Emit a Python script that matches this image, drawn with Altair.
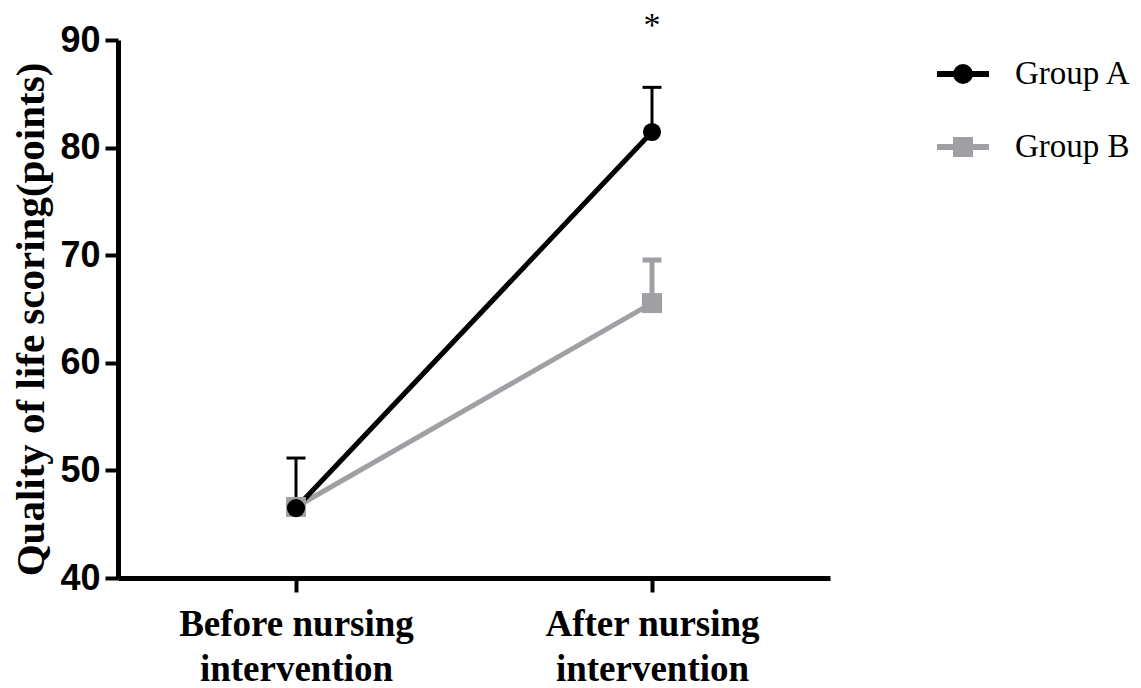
import altair as alt
import pandas as pd

# ---- data ----
categories = ["Before nursing intervention", "After nursing intervention"]
group_names = ["Group A", "Group B"]
group_colors = ["#000000", "#a0a0a4"]

means_a = [46.5, 81.45]
upper_a = [51.15, 85.6]
means_b = [46.6, 65.55]
upper_b = [47.3, 69.55]

star_labels = ["*"]
star_cats = ["After nursing intervention"]
star_values = [90.4]

# ---- tables built from the arrays (Group B first so Group A is drawn on top) ----
rows = []
for g, means, ups in [("Group B", means_b, upper_b), ("Group A", means_a, upper_a)]:
    for i, c in enumerate(categories):
        rows.append({"cat": c, "group": g, "mean": means[i], "upper": ups[i], "order": i})
df = pd.DataFrame(rows)

star_df = pd.DataFrame({"cat": star_cats, "value": star_values, "label": star_labels})

legend_df = pd.DataFrame({"legend_group": group_names,
                          "cat": [categories[1]] * 2,
                          "value": [0, 0]})

color_scale = alt.Scale(domain=group_names, range=group_colors)

x_enc = alt.X(
    "cat:N",
    sort=categories,
    scale=alt.Scale(type="point", domain=categories, padding=0.5),
    axis=alt.Axis(
        title=None,
        labelAngle=0,
        labelFont="Liberation Serif",
        labelFontWeight="bold",
        labelFontSize=37,
        labelColor="#000000",
        labelBaseline="alphabetic",
        labelPadding=43,
        labelLineHeight=45,
        labelLimit=400,
        labelExpr="split(replace(datum.label, ' intervention', '|intervention'), '|')",
        domainColor="#000000",
        domainWidth=5,
        tickColor="#000000",
        tickWidth=4,
        tickSize=14,
        grid=False,
    ),
)

y_scale = alt.Scale(domain=[40, 90], nice=False, zero=False)
y_enc = alt.Y(
    "mean:Q",
    scale=y_scale,
    axis=alt.Axis(
        title="Quality of life scoring(points)",
        values=[40, 50, 60, 70, 80, 90],
        labelFont="Liberation Sans",
        labelFontWeight="bold",
        labelFontSize=36,
        labelColor="#000000",
        labelPadding=5,
        domainColor="#000000",
        domainWidth=5,
        tickColor="#000000",
        tickWidth=4,
        tickSize=13,
        grid=False,
        titleFont="Liberation Serif",
        titleFontWeight="bold",
        titleFontSize=41,
        titleColor="#000000",
        titleAngle=270,
        titleAlign="center",
        titleBaseline="alphabetic",
        titleX=-75,
        titleY=279,
    ),
)

base = alt.Chart(df)

lines = base.mark_line(strokeWidth=5).encode(
    x=x_enc,
    y=y_enc,
    color=alt.Color("group:N", scale=color_scale, legend=None),
    detail="group:N",
    order="order:Q",
)

err_rules = base.mark_rule(strokeCap="butt").encode(
    x=alt.X("cat:N", sort=categories),
    y=alt.Y("mean:Q", scale=y_scale),
    y2="upper:Q",
    color=alt.Color("group:N", scale=color_scale, legend=None),
    strokeWidth=alt.StrokeWidth("group:N", scale=alt.Scale(domain=group_names, range=[3, 5]), legend=None),
)

err_caps = base.mark_rule(strokeCap="butt", xOffset=-9.5, x2Offset=9.5).encode(
    x=alt.X("cat:N", sort=categories),
    x2="cat:N",
    y=alt.Y("upper:Q", scale=y_scale),
    color=alt.Color("group:N", scale=color_scale, legend=None),
    strokeWidth=alt.StrokeWidth("group:N", scale=alt.Scale(domain=group_names, range=[3, 5]), legend=None),
)

points = base.mark_point(filled=True, opacity=1).encode(
    x=alt.X("cat:N", sort=categories),
    y=alt.Y("mean:Q", scale=y_scale),
    color=alt.Color("group:N", scale=color_scale, legend=None),
    shape=alt.Shape("group:N", scale=alt.Scale(domain=group_names, range=["circle", "square"]), legend=None),
    size=alt.Size("group:N", scale=alt.Scale(domain=group_names, range=[330, 400]), legend=None),
)

star = alt.Chart(star_df).mark_text(
    font="Liberation Serif", fontSize=34, baseline="alphabetic", align="center", color="#000000"
).encode(
    x=alt.X("cat:N", sort=categories),
    y=alt.Y("value:Q", scale=y_scale),
    text="label:N",
)

# legend symbols: line with a filled marker drawn as strokes only
circle_sym = ("M-1,0H1"
              "M0.269,0A0.269,0.269 0 1 1 -0.269,0A0.269,0.269 0 1 1 0.269,0"
              "M0.077,0A0.077,0.077 0 1 1 -0.077,0A0.077,0.077 0 1 1 0.077,0")
square_sym = ("M-1,0H1"
              "M-0.269,-0.269H0.269V0.269H-0.269Z"
              "M-0.077,-0.077H0.077V0.077H-0.077Z")

legend_layer = alt.Chart(legend_df).mark_point(
    filled=False, strokeWidth=6, size=2704, clip=True, opacity=1
).encode(
    x=alt.X("cat:N", sort=categories),
    y=alt.Y("value:Q", scale=y_scale),
    color=alt.Color(
        "legend_group:N",
        scale=alt.Scale(domain=group_names, range=group_colors),
        legend=alt.Legend(
            title=None,
            orient="none",
            legendX=816,
            legendY=5,
            symbolSize=2704,
            symbolStrokeWidth=6,
            labelFont="Liberation Serif",
            labelFontSize=33,
            labelColor="#000000",
            labelOffset=23,
            labelLimit=300,
            rowPadding=25,
            padding=0,
        ),
    ),
    shape=alt.Shape(
        "legend_group:N",
        scale=alt.Scale(domain=group_names, range=[circle_sym, square_sym]),
        legend=alt.Legend(title=None, orient="none", legendX=816, legendY=5),
    ),
)

chart = alt.layer(lines, err_rules, err_caps, points, star, legend_layer).resolve_scale(
    color="independent", shape="independent", size="independent", strokeWidth="independent"
).properties(
    width=712,
    height=538,
    autosize=alt.AutoSizeParams(type="none"),
    padding={"left": 110, "top": 32, "right": 303, "bottom": 110},
    background="#ffffff",
).configure_view(strokeWidth=0)

chart.save("out.html", embed_options={"renderer": "svg", "actions": False})
